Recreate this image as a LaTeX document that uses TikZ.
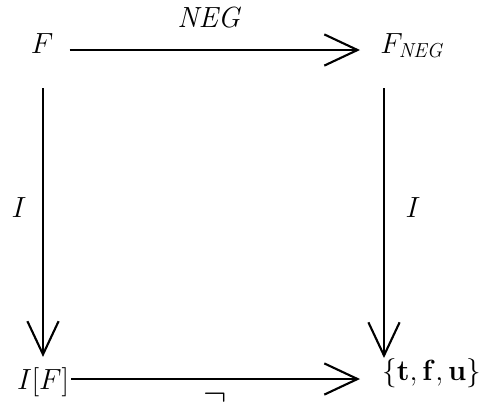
\documentclass[tikz,border=0pt]{standalone}
\usetikzlibrary{arrows.meta}

\begin{document}
\begin{tikzpicture}[
    x=0.025cm, y=-0.025cm,
    obj/.style={inner sep=0pt, font=\fontsize{20.5}{24}\selectfont},
    map/.style={-{Straight Barb[length=0.83cm, width=0.78cm]}, line width=1.5pt}
]

\useasboundingbox (0,0) rectangle (479,404);

\node[obj, anchor=base] (F) at (42,53) {$F$};
\node[obj, anchor=base west] (Fneg) at (380,53) {$F_{\mathit{NEG}}$};
\node[obj, anchor=base] (IF) at (43,389) {$I[F]$};
\node[obj, anchor=base west] (tfu) at (382,380) {$\{\mathbf{t},\mathbf{f},\mathbf{u}\}$};


\draw[map] ([shift={(16,-3)}]F.base east) -- ([shift={(-20,-3)}]Fneg.base west);
\node[obj, anchor=base] (negname) at (210,27) {$\mathit{NEG}$};

\draw[map] ([shift={(1,35)}]F.base) -- ([shift={(0,-10)}]IF.north);
\node[obj, anchor=base] (Ileft) at (19,217) {$I$};

\draw[map] ([shift={(4,35)}]Fneg.base west) -- ([shift={(2,-22)}]tfu.base west);
\node[obj, anchor=base] (Iright) at (413,217) {$I$};

\draw[map] ([shift={(2,-10)}]IF.base east) -- ([shift={(-22,-1)}]tfu.base west);
\node[obj, font=\fontsize{26}{30}\selectfont] (notsym) at (215,398) {$\neg$};

\end{tikzpicture}
\end{document}
